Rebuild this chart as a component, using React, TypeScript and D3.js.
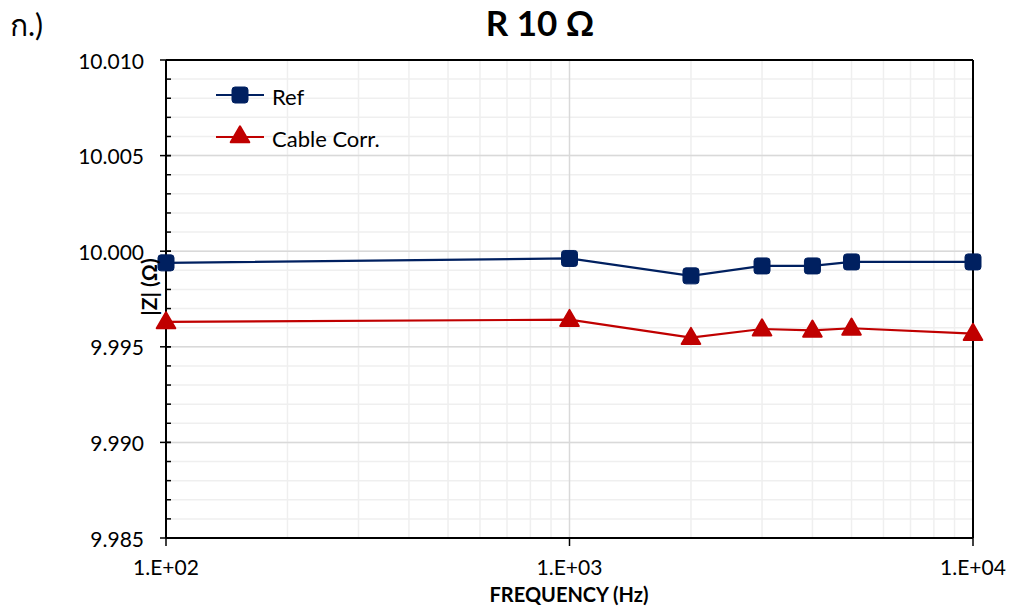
import React from "react";
import * as d3 from "d3";

const frequencies = [100, 1000, 2000, 3000, 4000, 5000, 10000];
const refValues = [9.99939, 9.99962, 9.99871, 9.99923, 9.99923, 9.99944, 9.99944];
const cableCorrValues = [9.9963, 9.99642, 9.99548, 9.99593, 9.99586, 9.99597, 9.99569];
const yTickLabels = ["10.010", "10.005", "10.000", "9.995", "9.990", "9.985"];
const xTickLabels = ["1.E+02", "1.E+03", "1.E+04"];
const seriesNames = ["Ref", "Cable Corr."];

const W = 1011;
const H = 607;
const M = { left: 166, right: 973, top: 60, bottom: 538 };
const FONT = "Lato, 'Open Sans', sans-serif";
const NAVY = "#002060";
const RED = "#C00000";

export default function App() {
  const x = d3.scaleLog().domain([100, 10000]).range([M.left, M.right]);
  const y = d3.scaleLinear().domain([9.985, 10.01]).range([M.bottom, M.top]);

  const yMajor = yTickLabels.map((t) => +t);
  const yMinor = d3.range(0, 26).map((i) => 9.985 + i * 0.001);
  const xMajor = [100, 1000, 10000];
  const xMinor: number[] = [];
  [100, 1000].forEach((dec) => {
    for (let k = 2; k <= 9; k++) xMinor.push(dec * k);
  });

  const line = d3
    .line<number>()
    .x((_, i) => x(frequencies[i]))
    .y((v) => y(v));

  const square = (cx: number, cy: number, key: string) => (
    <rect key={key} x={cx - 8} y={cy - 8} width={16} height={16} rx={3} fill={NAVY} stroke={NAVY} strokeWidth={1} />
  );
  const triSym = d3.symbol().type(d3.symbolTriangle).size(150)() as string;
  const triangle = (cx: number, cy: number, key: string) => (
    <path key={key} d={triSym} transform={`translate(${cx},${cy + 1})`} fill={RED} stroke={RED} strokeWidth={2} strokeLinejoin="round" />
  );

  return (
    <svg width={W} height={H} style={{ position: "absolute", left: 0, top: 0, background: "#fff" }} fontFamily={FONT}>
      <rect width={W} height={H} fill="#fff" />
      {/* minor grid */}
      {yMinor.map((v, i) => (
        <line key={"ym" + i} x1={M.left} x2={M.right} y1={y(v)} y2={y(v)} stroke="#efefef" strokeWidth={1.5} />
      ))}
      {xMinor.map((v, i) => (
        <line key={"xm" + i} x1={x(v)} x2={x(v)} y1={M.top} y2={M.bottom} stroke="#efefef" strokeWidth={1.5} />
      ))}
      {/* major grid */}
      {yMajor.map((v, i) => (
        <line key={"yM" + i} x1={M.left} x2={M.right} y1={y(v)} y2={y(v)} stroke="#d9d9d9" strokeWidth={1.5} />
      ))}
      {xMajor.map((v, i) => (
        <line key={"xM" + i} x1={x(v)} x2={x(v)} y1={M.top} y2={M.bottom} stroke="#d9d9d9" strokeWidth={1.5} />
      ))}
      {/* frame */}
      <line x1={M.left} x2={M.right} y1={M.top} y2={M.top} stroke="#000" strokeWidth={2} />
      <line x1={M.right} x2={M.right} y1={M.top} y2={M.bottom} stroke="#000" strokeWidth={2} />
      <line x1={M.left} x2={M.right} y1={M.bottom} y2={M.bottom} stroke="#000" strokeWidth={2} />
      <line x1={M.left} x2={M.left} y1={M.top} y2={M.bottom} stroke="#000" strokeWidth={2} />
      {/* y ticks */}
      {yMinor.map((v, i) => (
        <line key={"ytm" + i} x1={M.left} x2={M.left + 5} y1={y(v)} y2={y(v)} stroke="#000" strokeWidth={1.5} />
      ))}
      {yMajor.map((v, i) => (
        <line key={"ytM" + i} x1={M.left - 6} x2={M.left + 5} y1={y(v)} y2={y(v)} stroke="#000" strokeWidth={1.5} />
      ))}
      {yTickLabels.map((t, i) => (
        <text key={"yl" + i} x={M.left - 22} y={y(+t)} textAnchor="end" dominantBaseline="central" fontSize={21} fill="#000">
          {t}
        </text>
      ))}
      {/* x ticks */}
      {xMajor.map((v, i) => (
        <line key={"xt" + i} x1={x(v)} x2={x(v)} y1={M.bottom} y2={M.bottom + 8} stroke="#000" strokeWidth={1.5} />
      ))}
      {xTickLabels.map((t, i) => (
        <text key={"xl" + i} x={x(xMajor[i])} y={M.bottom + 37} textAnchor="middle" fontSize={21} fill="#000">
          {t}
        </text>
      ))}
      {/* series */}
      <path d={line(refValues) as string} fill="none" stroke={NAVY} strokeWidth={2.2} />
      <path d={line(cableCorrValues) as string} fill="none" stroke={RED} strokeWidth={2.2} />
      {refValues.map((v, i) => square(x(frequencies[i]), y(v), "s" + i))}
      {cableCorrValues.map((v, i) => triangle(x(frequencies[i]), y(v), "t" + i))}
      {/* legend */}
      <line x1={216} x2={264} y1={95} y2={95} stroke={NAVY} strokeWidth={2.2} />
      {square(240, 95, "lg1")}
      <text x={272} y={96} dominantBaseline="central" fontSize={22} fill="#000">{seriesNames[0]}</text>
      <line x1={216} x2={264} y1={137} y2={137} stroke={RED} strokeWidth={2.2} />
      {triangle(240, 136, "lg2")}
      <text x={272} y={138} dominantBaseline="central" fontSize={22} fill="#000">{seriesNames[1]}</text>
      {/* titles */}
      <text x={540} y={36} textAnchor="middle" fontSize={35} fontWeight="bold" fill="#000">R 10 Ω</text>
      <text x={10} y={36} fontSize={30} fill="#000">ก.)</text>
      <text x={569} y={602} textAnchor="middle" fontSize={20} fontWeight="bold" fill="#000">FREQUENCY (Hz)</text>
      <text transform={`translate(157,287) rotate(-90)`} textAnchor="middle" fontSize={21} fontWeight="bold" fill="#000">|Z| (Ω)</text>
    </svg>
  );
}
